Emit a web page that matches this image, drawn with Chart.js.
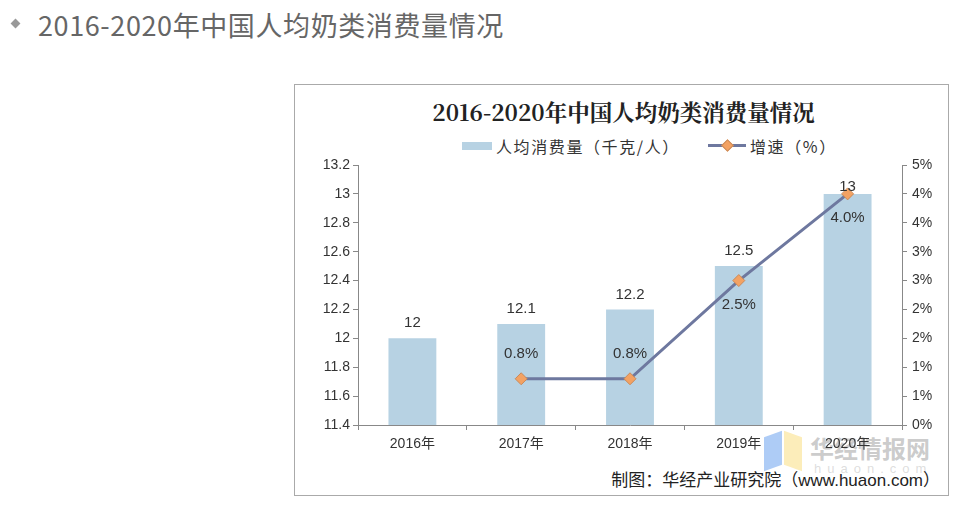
<!DOCTYPE html>
<html>
<head>
<meta charset="utf-8">
<script src="https://cdn.jsdelivr.net/npm/chart.js@4.4.0/dist/chart.umd.min.js"></script>
<style>
  body { margin:0; background:#fff; width:971px; height:519px; position:relative; overflow:hidden;
         font-family:"Liberation Sans","Noto Sans CJK SC",sans-serif; }
  #head { position:absolute; left:38px; top:6px; font-size:27px; letter-spacing:0.6px; color:#666;
          font-family:"Noto Sans CJK SC",sans-serif; line-height:38px; }
  #dot { position:absolute; left:12px; top:20px; width:7px; height:7px; background:#999; transform:rotate(45deg); }
  #box { position:absolute; left:294px; top:84px; width:655px; height:412px; border:1px solid #aaa; box-sizing:border-box; }
  #title { position:absolute; left:296px; width:655px; top:96px; text-align:center; font-size:22.5px; font-weight:bold;
           color:#222; font-family:"Noto Serif CJK SC","Noto Sans CJK SC",serif; line-height:30px; }
  .lg { position:absolute; top:135px; font-size:16px; color:#333; line-height:22px;
        font-family:"Noto Sans CJK SC",sans-serif; white-space:nowrap; letter-spacing:1.6px; }
  #src { position:absolute; right:31px; top:469px; font-size:17px; color:#222; font-family:"Liberation Sans","Noto Sans CJK SC",sans-serif; line-height:24px; }
  #wrap { position:absolute; left:296px; top:150px; width:650px; height:310px; }
  #wm { position:absolute; left:764px; top:430px; }
</style>
</head>
<body>
<div id="dot"></div>
<div id="head">2016-2020年中国人均奶类消费量情况</div>
<div id="box"></div>
<div id="title">2016-2020年中国人均奶类消费量情况</div>
<div style="position:absolute;left:462px;top:142px;width:30px;height:8px;background:#b7d2e3;"></div>
<div class="lg" style="left:496px;">人均消费量（千克/人）</div>
<div style="position:absolute;left:708px;top:144px;width:38px;height:3px;background:#6e789f;"></div>
<div style="position:absolute;left:723px;top:141px;width:7px;height:7px;background:#f3a263;border:1px solid #c98a5a;transform:rotate(45deg);"></div>
<div class="lg" style="left:750px;">增速（%）</div>
<div id="wm">
  <div style="position:absolute;left:0;top:4px;width:18px;height:34px;background:rgba(120,170,240,0.6);transform:skewY(-20deg);"></div>
  <div style="position:absolute;left:20px;top:4px;width:18px;height:34px;background:rgba(250,225,140,0.6);transform:skewY(20deg);"></div>
  <div style="position:absolute;left:46px;top:0px;font-size:24px;font-weight:bold;color:rgba(160,160,160,0.55);font-family:'Noto Sans CJK SC';white-space:nowrap;">华经情报网</div>
  <div style="position:absolute;left:50px;top:31px;font-size:13px;letter-spacing:6px;color:rgba(180,180,180,0.45);white-space:nowrap;">huaon.com</div>
</div>
<div id="src">制图：华经产业研究院（www.huaon.com）</div>
<div id="wrap"><canvas id="c"></canvas></div>
<script>
var years = ["2016年", "2017年", "2018年", "2019年", "2020年"];
var consumption = [12, 12.1, 12.2, 12.5, 13];
var growth = [null, 0.8, 0.8, 2.5, 4.0];
var growthLabels = [null, "0.8%", "0.8%", "2.5%", "4.0%"];
var leftTicks = [11.4, 11.6, 11.8, 12, 12.2, 12.4, 12.6, 12.8, 13, 13.2];
var rightTicks = [0, 0.5, 1, 1.5, 2, 2.5, 3, 3.5, 4, 4.5];

var labelPlugin = {
  id: "labels",
  afterDatasetsDraw: function(chart) {
    var ctx = chart.ctx;
    var top = chart.chartArea.top;
    ctx.save();
    ctx.font = "15px 'Liberation Sans', sans-serif";
    ctx.fillStyle = "#333";
    ctx.textAlign = "center";
    ctx.textBaseline = "middle";
    // bars are dataset 1
    chart.getDatasetMeta(1).data.forEach(function(bar, i) {
      ctx.fillText(String(consumption[i]), bar.x, Math.max(bar.y - 15, top + 22));
    });
    chart.getDatasetMeta(0).data.forEach(function(pt, i) {
      if (growth[i] == null) return;
      var dy = i < 3 ? -25 : 24;
      ctx.fillText(growthLabels[i], pt.x, pt.y + dy);
    });
    ctx.restore();
  }
};

var tickFont = { family: "'Liberation Sans', 'Noto Sans CJK SC', sans-serif", size: 14 };

new Chart(document.getElementById("c"), {
  data: {
    labels: years,
    datasets: [
      {
        type: "line",
        label: "增速（%）",
        data: growth,
        yAxisID: "y2",
        borderColor: "#6e789f",
        borderWidth: 3,
        pointStyle: "rectRot",
        pointRadius: 6,
        pointBackgroundColor: "#f3a263",
        pointBorderColor: "#c98a5a",
        pointBorderWidth: 1,
        order: 0
      },
      {
        type: "bar",
        label: "人均消费量（千克/人）",
        data: consumption,
        yAxisID: "y",
        backgroundColor: "#b7d2e3",
        barPercentage: 0.44,
        categoryPercentage: 1,
        order: 1
      }
    ]
  },
  plugins: [labelPlugin],
  options: {
    responsive: true,
    maintainAspectRatio: false,
    animation: false,
    layout: { padding: { top: 15, right: 0, left: 0, bottom: 0 } },
    plugins: { legend: { display: false }, tooltip: { enabled: false } },
    scales: {
      x: {
        offset: true,
        grid: { offset: true, drawOnChartArea: false, color: "#888", tickLength: 5 },
        border: { color: "#888" },
        ticks: { color: "#333", font: tickFont, padding: 6 },
        afterFit: function(s) { s.height = 35; }
      },
      y: {
        position: "left",
        min: 11.4, max: 13.2,
        afterBuildTicks: function(s) { s.ticks = leftTicks.map(function(v) { return { value: v }; }); },
        grid: { drawOnChartArea: false, color: "#888", tickLength: 5 },
        border: { color: "#888" },
        ticks: { color: "#333", font: tickFont, padding: 3,
                 callback: function(v) { return String(Math.round(v * 10) / 10); } },
        afterFit: function(s) { s.width = 62; }
      },
      y2: {
        position: "right",
        min: 0, max: 4.5,
        afterBuildTicks: function(s) { s.ticks = rightTicks.map(function(v) { return { value: v }; }); },
        grid: { drawOnChartArea: false, color: "#888", tickLength: 5 },
        border: { color: "#888" },
        ticks: { color: "#333", font: tickFont, padding: 5,
                 callback: function(v) { return Math.round(v) + "%"; } },
        afterFit: function(s) { s.width = 44; }
      }
    }
  }
});
</script>
</body>
</html>
